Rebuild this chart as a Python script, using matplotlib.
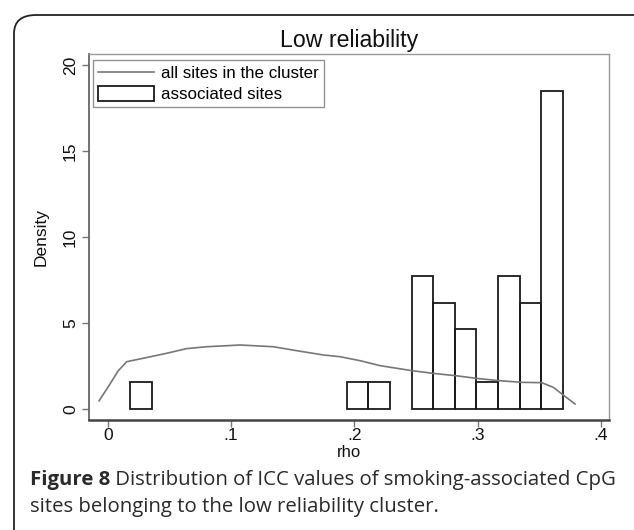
import matplotlib
matplotlib.use("Agg")
import matplotlib.pyplot as plt
from matplotlib.patches import FancyBboxPatch
from matplotlib.lines import Line2D
from matplotlib.patches import Patch

# ---------------- data ----------------
bin_start = 0.0181
bin_width = 0.01756
# density of associated sites per bin (20 bins)
hist_density = [1.55, 0, 0, 0, 0, 0, 0, 0, 0, 0,
                1.55, 1.55, 0, 7.73, 6.14, 4.65, 1.55, 7.73, 6.14, 18.47]
# kernel density of all sites in the cluster
kde_x = [-0.007, -0.0013, 0.0086, 0.0154, 0.0289, 0.0478, 0.064, 0.0803, 0.1073,
         0.1343, 0.1533, 0.1749, 0.1884, 0.2046, 0.2208, 0.2466, 0.2641, 0.2817,
         0.2993, 0.3168, 0.3358, 0.3520, 0.3614, 0.3695, 0.379]
kde_y = [0.48, 1.10, 2.23, 2.75, 2.95, 3.24, 3.51, 3.62, 3.72,
         3.62, 3.39, 3.14, 3.04, 2.81, 2.52, 2.23, 2.07, 1.94,
         1.78, 1.65, 1.55, 1.53, 1.26, 0.81, 0.29]
xticks = [0, 0.1, 0.2, 0.3, 0.4]
xtick_labels = ["0", ".1", ".2", ".3", ".4"]
yticks = [0, 5, 10, 15, 20]
title = "Low reliability"
caption_bold = "Figure 8"
caption_rest1 = " Distribution of ICC values of smoking-associated CpG"
caption_line2 = "sites belonging to the low reliability cluster."

W, H = 634, 530
fig = plt.figure(figsize=(W / 100, H / 100), dpi=100)
fig.patch.set_facecolor("white")
plt.rcParams['font.family'] = ['Liberation Sans', 'DejaVu Sans']

# outer rounded border
border = FancyBboxPatch((14 / W, -0.05), 1.2, 1.05 - 15 / H,
                        boxstyle="round,pad=0,rounding_size=0.035",
                        transform=fig.transFigure, facecolor="none",
                        edgecolor="#222222", linewidth=1.3)
fig.patches.append(border)

ax = fig.add_axes([89 / W, (H - 420) / H, (609.3 - 89) / W, (420 - 54) / H])

# histogram bars (skip empty bins)
lefts = [bin_start + i * bin_width for i, d in enumerate(hist_density) if d > 0]
heights = [d for d in hist_density if d > 0]
ax.bar(lefts, heights, width=bin_width, align="edge", facecolor="none",
       edgecolor="#1a1a1a", linewidth=1.3, zorder=2)

ax.plot(kde_x, kde_y, color="#777777", linewidth=1.2, zorder=3)

ax.set_xlim(-0.0152, 0.4068)
ax.set_ylim(-0.64, 20.64)
ax.set_xticks(xticks)
ax.set_xticklabels(xtick_labels)
ax.set_yticks(yticks)
ax.set_yticklabels([str(v) for v in yticks], rotation=90, va="center")

ax.tick_params(axis="both", direction="out", length=5, width=1, color="#777777",
               labelsize=12.5, labelcolor="#111111")
ax.tick_params(axis="x", pad=0.5)
ax.tick_params(axis="y", pad=3)

for s in ["top", "right"]:
    ax.spines[s].set_color("#999999")
    ax.spines[s].set_linewidth(1.0)
ax.spines["left"].set_color("#666666")
ax.spines["left"].set_linewidth(1.3)
ax.spines["bottom"].set_color("#444444")
ax.spines["bottom"].set_linewidth(1.8)

ax.set_xlabel("rho", fontsize=12, color="#111111")
ax.set_ylabel("Density", fontsize=12.5, color="#111111")
ax.yaxis.set_label_coords(-0.077, 0.5)
ax.xaxis.set_label_coords(0.5, -0.068)
ax.set_title(title, fontsize=16.7, color="#111111", pad=5)

handles = [Line2D([0], [0], color="#777777", linewidth=1.2),
           Patch(facecolor="none", edgecolor="#1a1a1a", linewidth=1.3)]
leg = ax.legend(handles, ["all sites in the cluster", "associated sites"],
                loc="upper left", bbox_to_anchor=(0.007, 0.984), fontsize=12.2,
                frameon=True, fancybox=False, borderpad=0.3, handlelength=3.3,
                handleheight=1.0, labelspacing=0.25, handletextpad=0.45,
                borderaxespad=0)
leg.get_frame().set_edgecolor("#777777")
leg.get_frame().set_linewidth(1.0)

# caption
cap_font = ['Open Sans', 'DejaVu Sans']
cap_size = 14.7
t1 = fig.text(30 / W, 1 - 485 / H, caption_bold, fontsize=cap_size, fontweight="bold",
              color="#2a2a2a", family=cap_font, va="baseline")
fig.canvas.draw()
bb = t1.get_window_extent()
fig.text(bb.x1 / W, 1 - 485 / H, caption_rest1, fontsize=cap_size, color="#2a2a2a",
         family=cap_font, va="baseline")
fig.text(30 / W, 1 - 512 / H, caption_line2, fontsize=cap_size, color="#2a2a2a",
         family=cap_font, va="baseline")

fig.savefig("out.png", dpi=100, facecolor="white")
